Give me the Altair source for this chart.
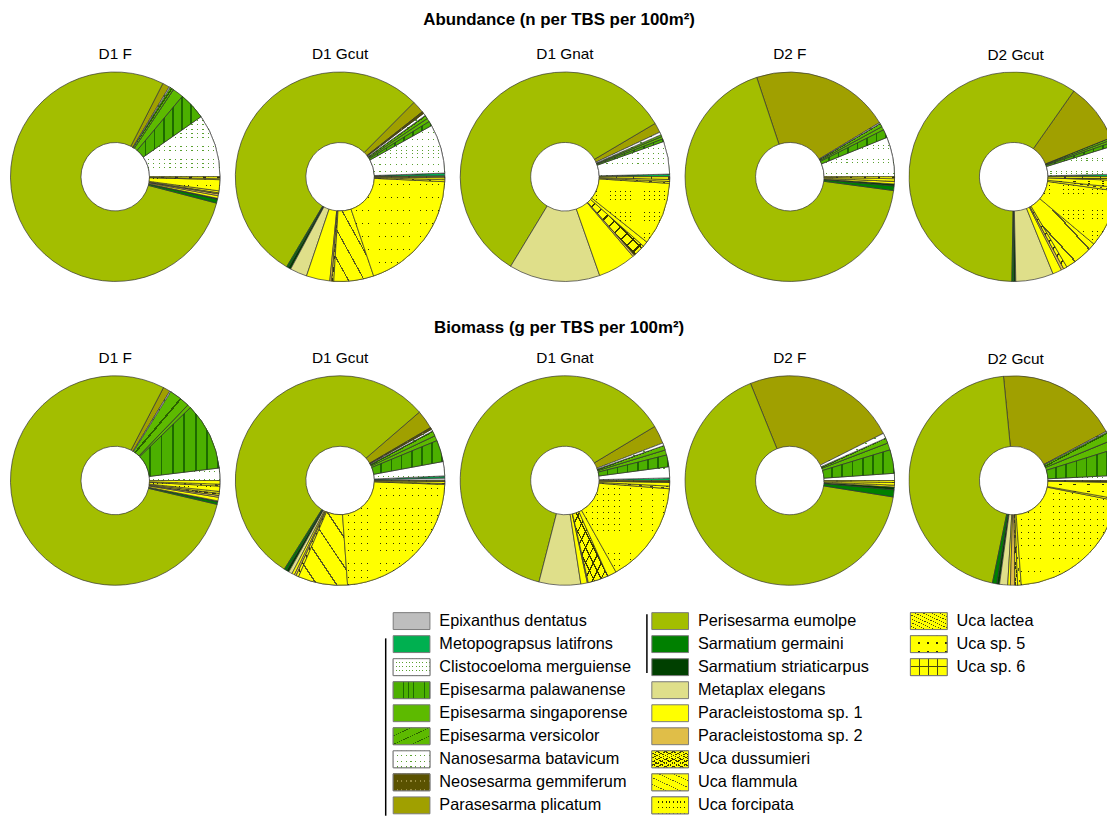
import math
import altair as alt
import pandas as pd

FONT = "Liberation Sans"

species = [
    "Epixanthus dentatus", "Metopograpsus latifrons", "Clistocoeloma merguiense",
    "Episesarma palawanense", "Episesarma singaporense", "Episesarma versicolor",
    "Nanosesarma batavicum", "Neosesarma gemmiferum", "Parasesarma plicatum",
    "Perisesarma eumolpe", "Sarmatium germaini", "Sarmatium striaticarpus",
    "Metaplax elegans", "Paracleistostoma sp. 1", "Paracleistostoma sp. 2",
    "Uca dussumieri", "Uca flammula", "Uca forcipata", "Uca lactea",
    "Uca sp. 5", "Uca sp. 6",
]
sites = ["D1 F", "D1 Gcut", "D1 Gnat", "D2 F", "D2 Gcut"]

# share of each species (%), in legend order
abund_d1_f = [0, 0, 9.7, 4.2, 1.7, 0.6, 0.15, 0, 1.1, 78.3, 0.6, 0.15, 0, 0.4, 0.3, 0.15, 0.3, 1.7, 0.15, 0.3, 0]
abund_d1_gcut = [0.15, 0.4, 7.5, 0.7, 0.55, 0.55, 0.4, 0.3, 1.9, 53.5, 0.3, 0.4, 2.6, 3.6, 0.3, 0.3, 6.1, 18.9, 0.3, 0.3, 0.15]
abund_d1_gnat = [0, 0.4, 5.0, 0.4, 0.4, 0.3, 0.4, 0, 1.5, 57.2, 0, 0, 13.9, 5.8, 0.3, 1.9, 0.8, 9.6, 0.3, 0.3, 0.4]
abund_d2_f = [0, 0, 6.1, 1.25, 0.55, 0.55, 0.15, 0, 21.4, 67.5, 0.7, 0.3, 0, 0.4, 0, 0, 0, 0.4, 0, 0.3, 0]
abund_d2_gcut = [0, 0.4, 4.4, 0.55, 0.4, 0.3, 0, 0, 9.2, 59.4, 0.3, 0.3, 5.8, 1.4, 0.4, 0.55, 5.4, 8.9, 0.55, 1.1, 0.55]

biom_d1_f = [0, 0, 1.9, 10.3, 0.55, 3.3, 0.15, 0, 1.1, 78.6, 0.4, 0.15, 0, 0.55, 0.3, 0.3, 0.3, 0.8, 0.3, 0.55, 0]
biom_d1_gcut = [0.4, 0.3, 2.2, 3.3, 0.8, 0.8, 0.3, 0.3, 2.9, 54.6, 0.4, 0.4, 0.55, 0.4, 0.3, 0.4, 7.6, 23.2, 0.15, 0.3, 0.15]
biom_d1_gnat = [0, 0.4, 1.7, 1.8, 0.8, 0.7, 0.4, 0, 2.8, 62.2, 0, 0, 6.4, 1.0, 0.15, 3.1, 1.4, 15.6, 0.4, 0.55, 0.3]
biom_d2_f = [0, 0, 1.1, 3.6, 1.1, 0.8, 0.8, 0, 23.6, 66.1, 1.1, 0.4, 0, 0.3, 0, 0, 0, 0.4, 0, 0.3, 0]
biom_d2_gcut = [0, 0, 0.8, 4.0, 1.4, 1.4, 0.15, 0, 18.75, 45.1, 0.7, 0.4, 1.25, 0.4, 0.7, 0.4, 0.55, 20.7, 0.3, 2.5, 0.3]

base_colors = [
    "#BEBEBE", "#00B050", "#FFFFFF", "#4CB000", "#5DBA00", "#5DBA00",
    "#FFFFFF", "#5A5200", "#A0A000", "#A3BE00", "#008000", "#004000",
    "#DFDF8A", "#FFFF00", "#E0BE48", "#FFFF00", "#FFFF00", "#FFFF00",
    "#FFFF00", "#FFFF00", "#FFFF00",
]

abundance = [abund_d1_f, abund_d1_gcut, abund_d1_gnat, abund_d2_f, abund_d2_gcut]
biomass = [biom_d1_f, biom_d1_gcut, biom_d1_gnat, biom_d2_f, biom_d2_gcut]

records = []
for measure, table in (("Abundance", abundance), ("Biomass", biomass)):
    for site, vals in zip(sites, table):
        for i, (sp, v) in enumerate(zip(species, vals)):
            if v > 0:
                records.append({"measure": measure, "site": site, "species": sp, "idx": i, "value": v})
df = pd.DataFrame(records)

CLEAR = "rgba(255,255,255,0)"


def stripes(base, line, n, frac, direction):
    vec = {"v": (0, 0, 1, 0), "h": (0, 0, 0, 1), "fwd": (0, 0, 1, 1), "back": (0, 1, 1, 0)}[direction]
    stops = []
    for k in range(n):
        a = round(k / n, 4)
        b = round((k + 1 - frac) / n, 4)
        c = round((k + 1) / n, 4)
        stops += [{"offset": a, "color": base}, {"offset": b, "color": base},
                  {"offset": b, "color": line}, {"offset": c, "color": line}]
    return {"gradient": "linear", "x1": vec[0], "y1": vec[1], "x2": vec[2], "y2": vec[3], "stops": stops}


def dots(base, dot, nv, nh, fv, fh):
    # thin lines of dot colour, then an opaque cover with thin see-through gaps:
    # the dot colour shows only where the two cross
    return [stripes(base, dot, nv, fv, "v"), stripes(base, CLEAR, nh, fh, "h")]


donut_patterns = {
    "Clistocoeloma merguiense": dots("#FFFFFF", "#5AA030", 14, 14, 0.22, 0.18),
    "Episesarma palawanense": [stripes("#4CB000", "#1E6A00", 7, 0.16, "v")],
    "Episesarma versicolor": [stripes("#5DBA00", "#2A6000", 4, 0.08, "fwd")],
    "Nanosesarma batavicum": dots("#FFFFFF", "#5AA030", 7, 6, 0.22, 0.18),
    "Neosesarma gemmiferum": dots("#5A5200", "#9A8E40", 8, 5, 0.25, 0.2),
    "Uca dussumieri": [stripes("#FFFF00", "#3A3A00", 9, 0.18, "fwd"),
                       stripes(CLEAR, "#3A3A00", 9, 0.18, "back")],
    "Uca flammula": [stripes("#FFFF00", "#5A5A20", 5, 0.08, "back")],
    "Uca forcipata": dots("#FFFF00", "#303000", 16, 15, 0.15, 0.13),
    "Uca lactea": [stripes("#FFFF00", "#4A4A10", 9, 0.14, "back")],
    "Uca sp. 5": dots("#FFFF00", "#303000", 5, 5, 0.18, 0.15),
    "Uca sp. 6": [stripes("#FFFF00", "#4A4A10", 4, 0.07, "v"), stripes(CLEAR, "#4A4A10", 2, 0.1, "h")],
}
legend_patterns = dict(donut_patterns)
legend_patterns["Clistocoeloma merguiense"] = dots("#FFFFFF", "#5AA030", 11, 4, 0.28, 0.26)
legend_patterns["Nanosesarma batavicum"] = dots("#FFFFFF", "#5AA030", 8, 3, 0.25, 0.24)
legend_patterns["Neosesarma gemmiferum"] = dots("#5A5200", "#9A8E40", 8, 2, 0.25, 0.25)
legend_patterns["Uca forcipata"] = dots("#FFFF00", "#303000", 10, 3, 0.2, 0.2)
legend_patterns["Uca sp. 5"] = dots("#FFFF00", "#303000", 4, 2, 0.2, 0.2)

color_scale = alt.Scale(domain=species, range=base_colors)
theta_scale = alt.Scale(domain=[0, 1], range=[math.pi / 2, math.pi / 2 - 2 * math.pi])

R_OUT, R_IN = 105.5, 34.5
CENTER = 106
PANEL_H = 212
arc_style = dict(outerRadius=R_OUT, innerRadius=R_IN, stroke="#333333", strokeWidth=0.7)


def donut(measure, site, width, clip, title_dx):
    base = (
        alt.Chart(df)
        .transform_filter((alt.datum.measure == measure) & (alt.datum.site == site))
        .transform_joinaggregate(total="sum(value)")
        .transform_window(cum="sum(value)", sort=[alt.SortField("idx")], frame=[None, 0])
        .transform_calculate(t0="(datum.cum - datum.value) / datum.total", t1="datum.cum / datum.total")
    )
    enc = dict(theta=alt.Theta("t0:Q", scale=theta_scale), theta2="t1:Q",
               x=alt.value(CENTER), y=alt.value(CENTER))
    layers = [base.mark_arc(clip=clip, **arc_style).encode(
        color=alt.Color("species:N", scale=color_scale, legend=None), **enc)]
    for sp, fills in donut_patterns.items():
        for k, f in enumerate(fills):
            style = dict(arc_style)
            if k < len(fills) - 1:
                style["strokeWidth"] = 0
            layers.append(base.transform_filter(alt.datum.species == sp)
                          .mark_arc(fill=f, clip=clip, **style).encode(**enc))
    return alt.layer(*layers).properties(
        width=width, height=PANEL_H,
        title=alt.TitleParams(site, fontSize=15.5, fontWeight="normal", font=FONT, color="black",
                              anchor="middle", offset=8, dx=title_dx),
    )


def row(measure, title, title_offset):
    panels = []
    for k, s in enumerate(sites):
        last = k == len(sites) - 1
        panels.append(donut(measure, s, 200 if last else 212, last, 8 if last else 0))
    return alt.hconcat(
        *panels, spacing=12.5,
        title=alt.TitleParams(title, fontSize=17, fontWeight="bold", font=FONT, color="black",
                              anchor="middle", offset=title_offset, dx=1),
    )


abund_row = row("Abundance", "Abundance (n per TBS per 100m²)", 18)
bio_row = row("Biomass", "Biomass (g per TBS per 100m²)", 14)

# ---- legend ----
leg = pd.DataFrame({
    "species": species,
    "col": [min(i // 9, 2) for i in range(len(species))],
    "row": [i % 9 for i in range(len(species))],
})
brackets = pd.DataFrame({"bx": [-0.1, 0.91], "top": [1.25, 0.2], "bottom": [8.95, 2.75]})

LEG_W, ROW_H = 1098, 23.2
LEG_H = 9 * ROW_H
xs = alt.Scale(domain=[0, 2], range=[404.5, 925.5])
ys = alt.Scale(domain=[0, 9], range=[0, LEG_H])
SWATCH = "M-1,-0.46H1V0.46H-1Z"
sw_style = dict(shape=SWATCH, size=37 * 37, filled=True, opacity=1, stroke="#7a7a7a", strokeWidth=1)

leg_base = alt.Chart(leg).transform_calculate(yc="datum.row + 0.5")
lx = alt.X("col:Q", scale=xs, axis=None)
ly = alt.Y("yc:Q", scale=ys, axis=None)

rules = alt.Chart(brackets).mark_rule(color="black", strokeWidth=1.5).encode(
    x=alt.X("bx:Q", scale=xs, axis=None), y=alt.Y("top:Q", scale=ys, axis=None), y2="bottom:Q")
swatches = leg_base.mark_point(**sw_style).encode(
    x=lx, y=ly, fill=alt.Fill("species:N", scale=color_scale, legend=None))
sw_over = []
for sp, fills in legend_patterns.items():
    for k, f in enumerate(fills):
        st = dict(sw_style)
        st["fill"] = f
        if k < len(fills) - 1:
            st["strokeWidth"] = 0
        sw_over.append(leg_base.transform_filter(alt.datum.species == sp).mark_point(**st).encode(x=lx, y=ly))
labels = leg_base.mark_text(align="left", baseline="middle", dx=28, fontSize=16.4, font=FONT,
                            color="black").encode(x=lx, y=ly, text="species:N")

legend_chart = alt.layer(rules, swatches, *sw_over, labels).properties(width=LEG_W, height=LEG_H)

chart = alt.vconcat(
    abund_row,
    alt.vconcat(bio_row, legend_chart, spacing=23),
    spacing=36,
).properties(
    padding={"left": 1, "top": 0, "right": 0, "bottom": 0}
).configure_view(stroke=None)

chart.save("out.html", embed_options={"renderer": "svg", "actions": False})
